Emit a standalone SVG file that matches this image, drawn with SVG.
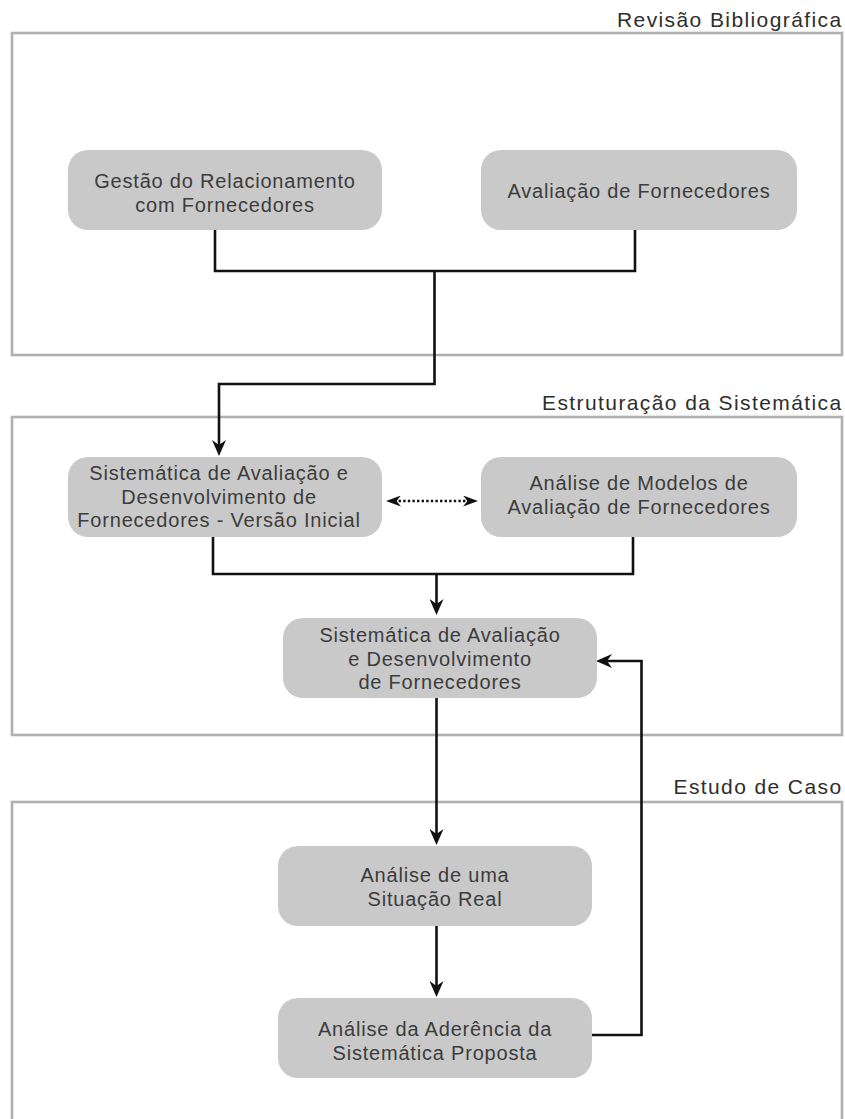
<svg xmlns="http://www.w3.org/2000/svg" width="845" height="1119" viewBox="0 0 845 1119">
  <style>
    .frame { fill: none; stroke: #b0b0b0; stroke-width: 2.6; }
    .title { font-family: "Liberation Sans", Arial, sans-serif; font-size: 21px; letter-spacing: 1.4px; fill: #2e2e2e; text-anchor: end; }
    .box { fill: #c9c9ca; }
    .label { font-family: "Liberation Sans", Arial, sans-serif; font-size: 20px; letter-spacing: 0.8px; fill: #3c3c3c; text-anchor: middle; }
    .wire { fill: none; stroke: #111; stroke-width: 2.6; }
    .arrow { marker-end: url(#head); }
    .dotted { fill: none; stroke: #111; stroke-width: 2.4; stroke-dasharray: 2.4 2.2; marker-start: url(#head2); marker-end: url(#head2); }
  </style>
  <defs>
    <marker id="head" viewBox="0 -7 16 14" markerWidth="16" markerHeight="14" refX="8" refY="0" orient="auto" markerUnits="userSpaceOnUse">
      <path d="M0,-7 L16,0 L0,7 L5,0 Z" fill="#111"/>
    </marker>
    <marker id="head2" viewBox="0 -5.5 15 11" markerWidth="15" markerHeight="11" refX="7" refY="0" orient="auto-start-reverse" markerUnits="userSpaceOnUse">
      <path d="M0,-5.5 L15,0 L0,5.5 L4.5,0 Z" fill="#111"/>
    </marker>
  </defs>

  <!-- phase frames -->
  <g id="phase-revisao">
    <rect class="frame" x="12" y="33" width="830" height="322"/>
    <text class="title" x="842.5" y="27">Revisão Bibliográfica</text>
  </g>
  <g id="phase-estruturacao">
    <rect class="frame" x="12" y="417" width="830" height="318"/>
    <text class="title" x="842.5" y="410">Estruturação da Sistemática</text>
  </g>
  <g id="phase-estudo">
    <rect class="frame" x="12" y="802" width="830" height="330"/>
    <text class="title" x="842.5" y="794">Estudo de Caso</text>
  </g>

  <!-- connectors -->
  <g id="connectors">
    <path class="wire" d="M215,230 V271 H635 V230"/>
    <path class="wire arrow" d="M434.5,271 V384 H219 V448"/>
    <path class="dotted" d="M394,501 H470"/>
    <path class="wire" d="M213,537 V574 H633 V537"/>
    <path class="wire arrow" d="M436.5,574 V607"/>
    <path class="wire arrow" d="M436.5,698 V837"/>
    <path class="wire arrow" d="M436.5,926 V989"/>
    <path class="wire arrow" d="M592,1035 H641.5 V661 H604"/>
  </g>

  <!-- nodes -->
  <g id="gestao-relacionamento">
    <rect class="box" x="68" y="150" width="314" height="80" rx="20"/>
    <text class="label" x="225" y="188">Gestão do Relacionamento</text>
    <text class="label" x="225" y="211.5">com Fornecedores</text>
  </g>
  <g id="avaliacao-fornecedores">
    <rect class="box" x="481" y="150" width="316" height="80" rx="20"/>
    <text class="label" x="639" y="198">Avaliação de Fornecedores</text>
  </g>
  <g id="sistematica-inicial">
    <rect class="box" x="68" y="457" width="314" height="80" rx="20"/>
    <text class="label" x="219" y="480">Sistemática de Avaliação e</text>
    <text class="label" x="219" y="503.5">Desenvolvimento de</text>
    <text class="label" x="219" y="527">Fornecedores - Versão Inicial</text>
  </g>
  <g id="analise-modelos">
    <rect class="box" x="481" y="457" width="316" height="80" rx="20"/>
    <text class="label" x="639" y="490">Análise de Modelos de</text>
    <text class="label" x="639" y="514">Avaliação de Fornecedores</text>
  </g>
  <g id="sistematica">
    <rect class="box" x="283" y="618" width="314" height="80" rx="20"/>
    <text class="label" x="440" y="642">Sistemática de Avaliação</text>
    <text class="label" x="440" y="665.5">e Desenvolvimento</text>
    <text class="label" x="440" y="689">de Fornecedores</text>
  </g>
  <g id="situacao-real">
    <rect class="box" x="278" y="846" width="314" height="80" rx="20"/>
    <text class="label" x="435" y="882">Análise de uma</text>
    <text class="label" x="435" y="905.5">Situação Real</text>
  </g>
  <g id="aderencia">
    <rect class="box" x="278" y="998" width="314" height="80" rx="20"/>
    <text class="label" x="435" y="1036">Análise da Aderência da</text>
    <text class="label" x="435" y="1059.5">Sistemática Proposta</text>
  </g>
</svg>
